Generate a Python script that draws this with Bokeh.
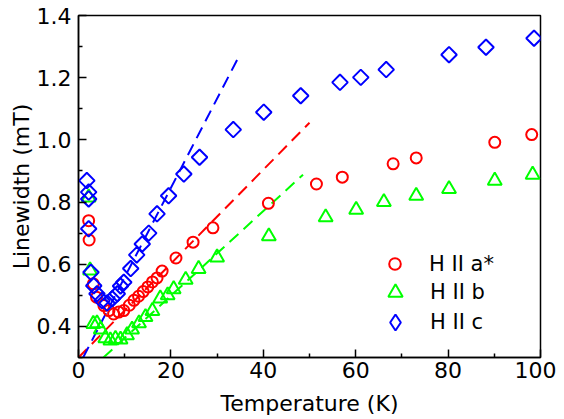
import numpy as np
from bokeh.plotting import figure
from bokeh.models import FixedTicker, PrintfTickFormatter, Legend, LegendItem
from bokeh.embed import file_html
from bokeh.resources import INLINE

# ---------------- data ----------------
red_T = [2.2, 2.3, 3.2, 3.9, 5.5, 6.6, 7.6, 8.7, 9.8, 11.0, 12.0, 13.0, 14.0, 15.0,
         16.0, 17.0, 18.1, 21.1, 24.8, 29.1, 41.1, 51.5, 57.1, 68.1, 73.1, 90.1, 98.1]
red_y = [0.740, 0.678, 0.537, 0.494, 0.467, 0.451, 0.440, 0.446, 0.451, 0.468, 0.484,
         0.497, 0.512, 0.527, 0.543, 0.556, 0.578, 0.620, 0.671, 0.717, 0.796, 0.858,
         0.880, 0.923, 0.942, 0.992, 1.017]

green_T = [2.2, 2.5, 3.2, 4.0, 4.8, 5.8, 6.9, 8.0, 9.1, 10.5, 11.6, 13.1, 14.5, 16.0,
           17.7, 19.3, 20.6, 23.2, 26.0, 30.0, 41.2, 53.5, 60.1, 66.1, 73.1, 80.2, 90.1, 98.3]
green_y = [0.815, 0.580, 0.408, 0.410, 0.390, 0.362, 0.355, 0.360, 0.358, 0.372, 0.390,
           0.410, 0.430, 0.450, 0.490, 0.500, 0.520, 0.550, 0.585, 0.622, 0.690, 0.751,
           0.775, 0.800, 0.820, 0.842, 0.869, 0.888]

blue_T = [1.8, 2.2, 2.2, 2.2, 2.7, 3.3, 4.0, 5.1, 6.2, 7.3, 8.4, 9.1, 9.8, 11.3, 12.6,
          13.8, 15.2, 17.0, 19.5, 22.8, 26.2, 33.5, 40.1, 48.1, 56.6, 61.1, 66.6, 80.2,
          88.2, 98.6]
blue_y = [0.869, 0.832, 0.810, 0.714, 0.574, 0.531, 0.505, 0.483, 0.475, 0.489, 0.505,
          0.530, 0.542, 0.586, 0.630, 0.665, 0.700, 0.762, 0.820, 0.890, 0.944, 1.033,
          1.089, 1.142, 1.185, 1.201, 1.226, 1.274, 1.298, 1.327]

# linear fits (dashed)
red_fit_T = [0.0, 50.0]
red_fit_y = [0.300, 1.055]
green_fit_T = [5.4, 48.6]
green_fit_y = [0.300, 0.888]
blue_fit_T = [1.0, 34.6]
blue_fit_y = [0.300, 1.265]

labels = ["H II a*", "H II b", "H II c"]
x_ticks = [0, 20, 40, 60, 80, 100]
x_minor = [10, 30, 50, 70, 90]
y_ticks = [0.4, 0.6, 0.8, 1.0, 1.2, 1.4]
y_minor = [0.3, 0.5, 0.7, 0.9, 1.1, 1.3]

RED = "#FF0000"
GREEN = "#00FF00"
BLUE = "#0000FF"
FONT = "DejaVu Sans"

p = figure(frame_width=462, frame_height=342, x_range=(0, 100), y_range=(0.3, 1.4),
           output_backend="svg", toolbar_location=None,
           min_border_left=78, min_border_right=16, min_border_top=15, min_border_bottom=47)
p.background_fill_color = "white"
p.border_fill_color = "white"
p.grid.visible = False
p.outline_line_color = "black"
p.outline_line_width = 1.5
p.outline_line_alpha = 1.0

for ax in (p.xaxis[0], p.yaxis[0]):
    ax.axis_line_width = 1.5
    ax.axis_line_color = "black"
    ax.major_tick_in = 8
    ax.major_tick_out = 0
    ax.minor_tick_in = 4
    ax.minor_tick_out = 0
    ax.major_tick_line_width = 1.5
    ax.minor_tick_line_width = 1.5
    ax.major_label_text_font = FONT
    ax.major_label_text_font_size = "22px"
    ax.major_label_text_color = "black"
    ax.axis_label_text_font = FONT
    ax.axis_label_text_font_size = "22px"
    ax.axis_label_text_font_style = "normal"
    ax.axis_label_text_color = "black"

p.xaxis.ticker = FixedTicker(ticks=x_ticks, minor_ticks=x_minor)
p.yaxis.ticker = FixedTicker(ticks=y_ticks, minor_ticks=y_minor)
p.xaxis.formatter = PrintfTickFormatter(format="%d")
p.yaxis.formatter = PrintfTickFormatter(format="%.1f")
p.xaxis.axis_label = "Temperature (K)"
p.yaxis.axis_label = "Linewidth (mT)"
p.xaxis.major_label_standoff = 4
p.xaxis.axis_label_standoff = 10
p.yaxis.major_label_standoff = 7
p.yaxis.axis_label_standoff = 0

# fit lines
p.line(red_fit_T, red_fit_y, line_color=RED, line_width=2, line_dash="12 7")
p.line(green_fit_T, green_fit_y, line_color=GREEN, line_width=2, line_dash="12 7")
p.line(blue_fit_T, blue_fit_y, line_color=BLUE, line_width=2, line_dash="12 7")

g = p.scatter(green_T, green_y, marker="triangle", size=14, fill_color=None,
              line_color=GREEN, line_width=2)
r = p.scatter(red_T, red_y, marker="circle", size=11, fill_color=None,
              line_color=RED, line_width=2)
b = p.scatter(blue_T, blue_y, marker="square", size=11, angle=np.pi / 4, fill_color=None,
              line_color=BLUE, line_width=2)
# legend proxy for the blue series (legend glyphs are never rotated); zero size on the plot
b_proxy = p.scatter(blue_T, blue_y, marker="diamond", size=0, fill_color=None,
                    line_color=BLUE, line_width=2)


def make_legend(label, renderer, glyph, loc, standoff):
    return Legend(items=[LegendItem(label=label, renderers=[renderer])],
                  location=loc, glyph_width=glyph, glyph_height=glyph, label_height=glyph,
                  spacing=0, padding=0, margin=0, label_standoff=standoff,
                  label_text_font=FONT, label_text_font_size="21px",
                  label_text_color="black",
                  border_line_color=None, background_fill_alpha=0)


p.add_layout(make_legend(labels[0], r, 29, (302, 79), 20))
p.add_layout(make_legend(labels[1], g, 36, (299, 47), 17))
p.add_layout(make_legend(labels[2], b_proxy, 40, (297, 15), 15))

open("out.html", "w").write(file_html(p, INLINE))
